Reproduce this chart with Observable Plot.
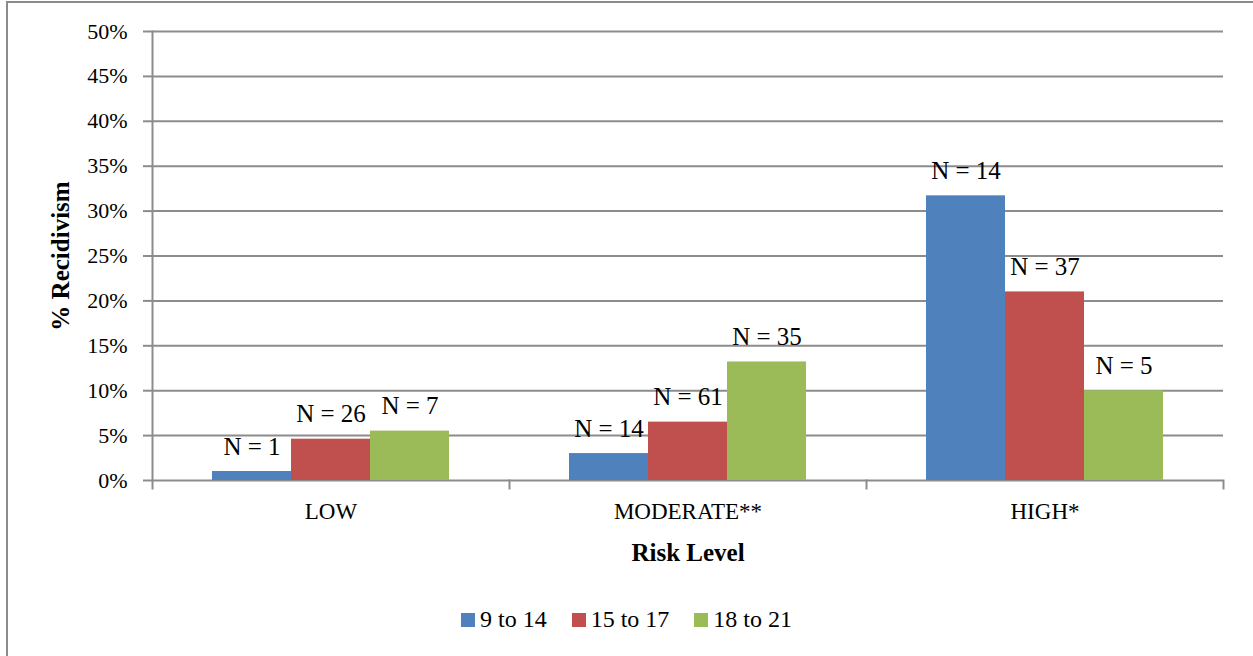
<!DOCTYPE html>
<html>
<head>
<meta charset="utf-8">
<script src="https://cdn.jsdelivr.net/npm/d3@7"></script>
<script src="https://cdn.jsdelivr.net/npm/@observablehq/plot@0.6"></script>
<style>
  body { margin: 0; background: #fff; font-family: "Liberation Serif", "DejaVu Serif", serif; }
  #wrap { position: relative; width: 1253px; height: 656px; overflow: hidden; }
  #border { position: absolute; left: 6px; top: 1px; width: 2000px; height: 2000px;
            border-left: 2px solid #8c8c8c; border-top: 2px solid #8c8c8c; }
  #chart { position: absolute; left: 0; top: 0; }
  #chart svg, #chart svg text { font-family: "Liberation Serif", "DejaVu Serif", serif !important; }
  #legend { position: absolute; left: 0; top: 603px; width: 1253px; display: flex; justify-content: center; }
  #legend .lg-swatches, #legend .lg-swatch { font-family: "Liberation Serif", "DejaVu Serif", serif !important; font-size: 24px; color: #000; margin: 0; }
  #legend .lg-swatch { margin-right: 25px; }
  #legend .lg-swatch:last-child { margin-right: 0; }
  #legend .lg-swatch > svg { margin-right: 5px; }
</style>
</head>
<body>
<div id="wrap">
  <div id="border"></div>
  <div id="chart"></div>
  <div id="legend"></div>
</div>
<script>
// ---- data ----
const riskLevels = ["LOW", "MODERATE**", "HIGH*"];
const ageGroups = ["9 to 14", "15 to 17", "18 to 21"];
const seriesColors = ["#4F81BD", "#C0504D", "#9BBB59"];
const pct9to14 = [1.0, 3.0, 31.7];
const pct15to17 = [4.6, 6.5, 21.0];
const pct18to21 = [5.5, 13.2, 10.0];
const n9to14 = [1, 14, 14];
const n15to17 = [26, 61, 37];
const n18to21 = [7, 35, 5];
const yTicks = [0, 5, 10, 15, 20, 25, 30, 35, 40, 45, 50];

const pctSeries = [pct9to14, pct15to17, pct18to21];
const nSeries = [n9to14, n15to17, n18to21];
const rows = [];
riskLevels.forEach((risk, i) => {
  ageGroups.forEach((age, j) => {
    rows.push({risk, age, pct: pctSeries[j][i], n: nSeries[j][i]});
  });
});

const gridColor = "#8c8c8c";
const serif = "Liberation Serif, DejaVu Serif, serif";

const chart = Plot.plot({
  width: 1253,
  height: 590,
  marginLeft: 152,
  marginRight: 30,
  marginTop: 31,
  marginBottom: 110,
  style: {fontFamily: serif, fontSize: "23px", color: "#000", background: "transparent"},
  fx: {domain: riskLevels, padding: 0, label: null},
  x: {domain: ageGroups, paddingInner: 0, paddingOuter: 0.74, axis: null},
  y: {domain: [0, 50], axis: null},
  color: {domain: ageGroups, range: seriesColors},
  marks: [
    Plot.ruleY(yTicks, {stroke: gridColor, strokeWidth: 2}),
    Plot.frame({anchor: "left", facet: "super", stroke: gridColor, strokeWidth: 2, insetBottom: -8}),
    Plot.frame({anchor: "right", stroke: gridColor, strokeWidth: 2, insetTop: 449, insetBottom: -8}),
    Plot.barY(rows, {fx: "risk", x: "age", y: "pct", fill: "age"}),
    Plot.text(rows, {fx: "risk", x: "age", y: "pct", text: d => `N = ${d.n}`, dy: -25, fontSize: 25, fontFamily: serif, fill: "#000"}),
    Plot.axisY({ticks: yTicks, tickFormat: d => d + "%", tickSize: 9, tickPadding: 16, stroke: gridColor, strokeWidth: 2, fontSize: 22, fontFamily: serif, label: null}),
    Plot.axisFx({anchor: "bottom", tickSize: 0, tickPadding: 22, fontSize: 23, fontFamily: serif, label: null}),
    Plot.text(["% Recidivism"], {frameAnchor: "left", textAnchor: "middle", facet: "super", rotate: -90, dx: -92, fontWeight: "bold", fontSize: 25, fontFamily: serif, fill: "#000"}),
    Plot.text(["Risk Level"], {frameAnchor: "bottom", facet: "super", lineAnchor: "top", dy: 63, fontWeight: "bold", fontSize: 25, fontFamily: serif, fill: "#000"})
  ]
});
document.getElementById("chart").appendChild(chart);

const legend = Plot.legend({
  color: {domain: ageGroups, range: seriesColors},
  legend: "swatches",
  swatchSize: 14,
  className: "lg"
});
document.getElementById("legend").appendChild(legend);
</script>
</body>
</html>
